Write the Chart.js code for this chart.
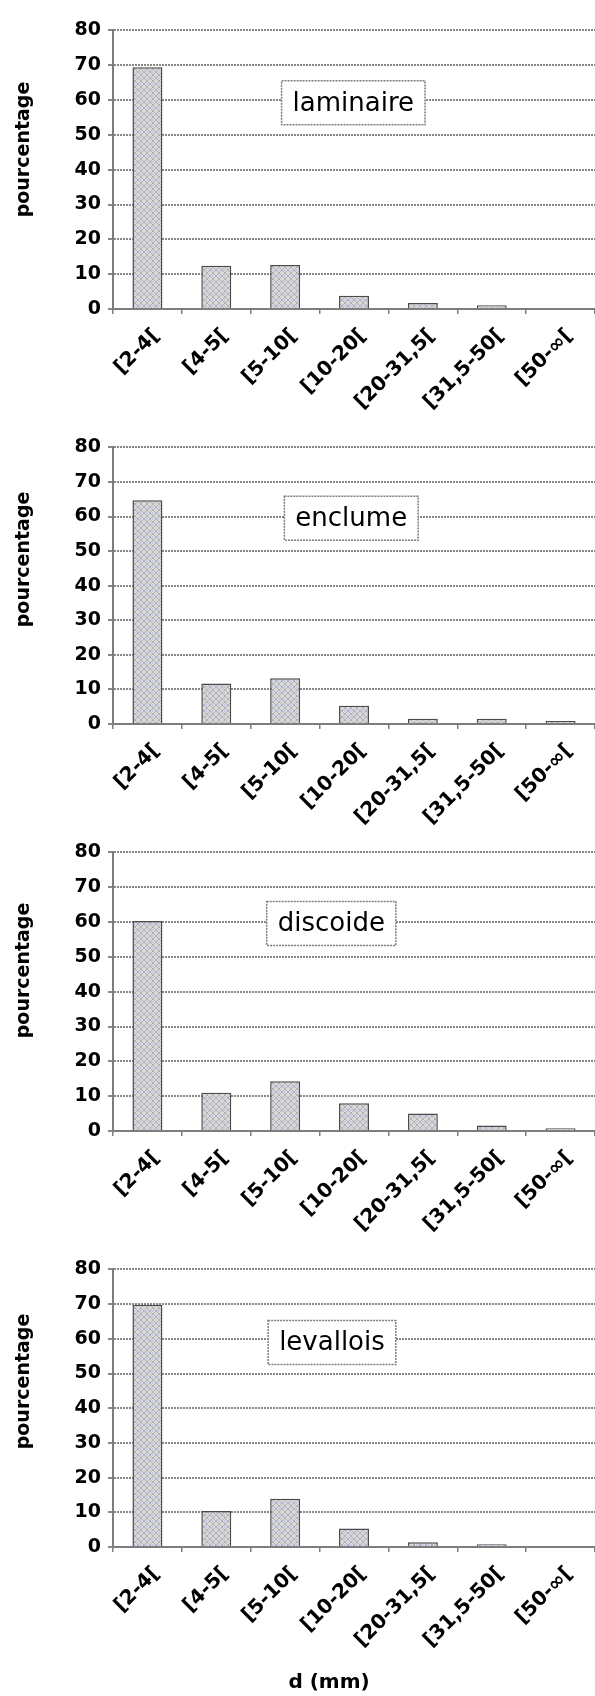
<!DOCTYPE html>
<html>
<head>
<meta charset="utf-8">
<script src="https://cdn.jsdelivr.net/npm/chart.js@4/dist/chart.umd.min.js"></script>
<style>
  html, body { margin: 0; padding: 0; background: #fff; }
  body { position: relative; width: 595px; height: 1696px; overflow: hidden; }
  canvas { position: absolute; left: 0; }
</style>
</head>
<body>
<canvas id="p0"></canvas>
<canvas id="p1"></canvas>
<canvas id="p2"></canvas>
<canvas id="p3"></canvas>
<script>
// Size classes of the flakes (mm)
const categories = ['[2-4[', '[4-5[', '[5-10[', '[10-20[', '[20-31,5[', '[31,5-50[', '[50-\u221E['];
const yTickValues = [0, 10, 20, 30, 40, 50, 60, 70, 80];

// Percentage of flakes per size class, one array per débitage method
const laminaire = [69.4, 12.4, 12.6, 3.8, 1.7, 1.1, 0.3];
const enclume   = [64.7, 11.7, 13.2, 5.3, 1.5, 1.5, 0.9];
const discoide  = [60.3, 11.0, 14.3, 8.0, 5.0, 1.6, 0.8];
const levallois = [69.8, 10.4, 13.9, 5.3, 1.4, 0.8, 0.0];

const methodNames = ['laminaire', 'enclume', 'discoide', 'levallois'];
const yTitle = 'pourcentage';
const xTitle = 'd (mm)';

const FONT = '"DejaVu Sans", "Liberation Sans", sans-serif';
const TOP_PAD = 16;     // room above the chart area for the "80" tick label
const AXIS_LEFT = 113;  // width reserved for y tick labels and title

// page layout of the four stacked panels (chart-area top and bottom, in page px)
const panels = [
  { values: laminaire, top: 28,   bottom: 309,  xAxisH: 115, box: [2.99, 59.2], yTitleAt: 45.8 },
  { values: enclume,   top: 445,  bottom: 724,  xAxisH: 115, box: [2.96, 59.5], yTitleAt: 47.6 },
  { values: discoide,  top: 850,  bottom: 1131, xAxisH: 115, box: [2.67, 59.6], yTitleAt: 46.1 },
  { values: levallois, top: 1267, bottom: 1547, xAxisH: 149, box: [2.68, 58.9], yTitleAt: 47.7, withXTitle: true }
];

// light grey crosshatch used to fill the bars
function hatchPattern() {
  const t = document.createElement('canvas');
  t.width = 6; t.height = 6;
  const g = t.getContext('2d');
  g.fillStyle = '#d9d9d9';
  g.fillRect(0, 0, 6, 6);
  g.fillStyle = '#b2b2b2';
  for (let i = 0; i < 6; i++) {
    g.fillRect(i, i, 1, 1);
    g.fillRect(5 - i, i, 1, 1);
  }
  g.fillStyle = '#bcc2ea';
  g.fillRect(2, 0, 1, 1);
  g.fillRect(2, 5, 1, 1);
  return g.createPattern(t, 'repeat');
}

// draws the boxed method name, the rotated y title and the x title
const panelText = {
  id: 'panelText',
  afterDraw(chart, args, opts) {
    const { ctx, chartArea } = chart;
    const xs = chart.scales.x, ys = chart.scales.y;
    ctx.save();
    ctx.fillStyle = '#000';

    // y axis title
    ctx.save();
    ctx.font = 'bold 19px ' + FONT;
    ctx.translate(24, ys.getPixelForValue(opts.yTitleAt));
    ctx.rotate(-Math.PI / 2);
    ctx.textAlign = 'center';
    ctx.textBaseline = 'middle';
    ctx.fillText(yTitle, 0, 0);
    ctx.restore();

    // boxed label
    ctx.font = '26px ' + FONT;
    const w = ctx.measureText(opts.label).width;
    const cx = xs.getPixelForValue(opts.box[0]);
    const cy = ys.getPixelForValue(opts.box[1]);
    const bw = w + 22, bh = 44;
    ctx.fillStyle = '#fff';
    ctx.fillRect(cx - bw / 2, cy - bh / 2, bw, bh);
    ctx.strokeStyle = '#7d7d7d';
    ctx.lineWidth = 1.5;
    ctx.setLineDash([2, 1]);
    ctx.strokeRect(cx - bw / 2, cy - bh / 2, bw, bh);
    ctx.setLineDash([]);
    ctx.fillStyle = '#000';
    ctx.textAlign = 'center';
    ctx.textBaseline = 'middle';
    ctx.fillText(opts.label, cx, cy + 1);

    // x axis title under the last panel
    if (opts.withXTitle) {
      ctx.font = 'bold 20px ' + FONT;
      ctx.fillText(xTitle, chartArea.left + 216, chartArea.bottom + 136);
    }
    ctx.restore();
  }
};

const fill = hatchPattern();

panels.forEach((p, i) => {
  const cv = document.getElementById('p' + i);
  const h = (p.bottom - p.top) + TOP_PAD + p.xAxisH;
  cv.width = 595;
  cv.height = h;
  cv.style.width = '595px';
  cv.style.height = h + 'px';
  cv.style.top = (p.top - TOP_PAD) + 'px';

  new Chart(cv, {
    type: 'bar',
    data: {
      labels: categories,
      datasets: [{
        data: p.values,
        backgroundColor: fill,
        borderColor: '#4a4a4a',
        borderWidth: 1.5,
        categoryPercentage: 1,
        barPercentage: 0.435
      }]
    },
    plugins: [panelText],
    options: {
      responsive: false,
      animation: false,
      events: [],
      layout: { padding: { top: TOP_PAD, left: 0, right: 0, bottom: 0 } },
      plugins: {
        legend: { display: false },
        tooltip: { enabled: false },
        panelText: { label: methodNames[i], box: p.box, yTitleAt: p.yTitleAt, withXTitle: !!p.withXTitle }
      },
      scales: {
        x: {
          afterFit(scale) { scale.height = p.xAxisH; },
          grid: { display: true, offset: true, drawOnChartArea: false, drawTicks: true, tickLength: 5, color: '#7d7d7d', lineWidth: 1.5 },
          border: { display: true, color: '#7d7d7d', width: 2, dash: [2, 1] },
          ticks: {
            autoSkip: false, minRotation: 45, maxRotation: 45, padding: 10, labelOffset: 9,
            color: '#000', font: { family: FONT, size: 20, weight: 'bold' }
          }
        },
        y: {
          min: 0, max: 80,
          afterFit(scale) { scale.width = AXIS_LEFT; },
          afterBuildTicks(scale) { scale.ticks = yTickValues.map(v => ({ value: v })); },
          grid: { color: '#888888', lineWidth: 2, tickLength: 5 },
          border: { display: true, color: '#7d7d7d', width: 2, dash: [2, 1] },
          ticks: { padding: 7, color: '#000', font: { family: FONT, size: 19, weight: 'bold' } }
        }
      }
    }
  });
});
</script>
</body>
</html>
